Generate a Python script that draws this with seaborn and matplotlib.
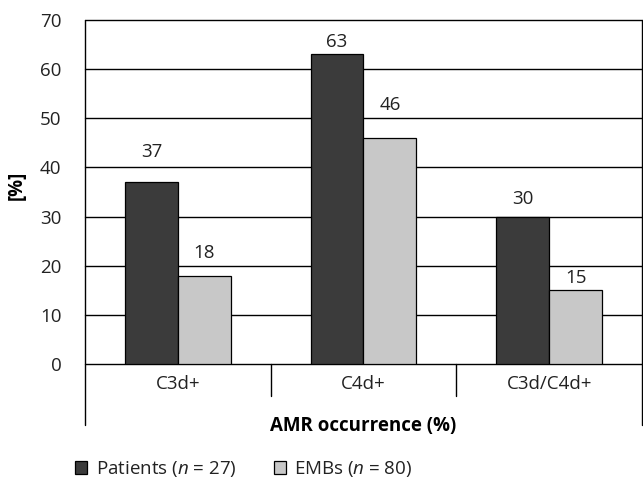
import matplotlib
matplotlib.use("Agg")
import matplotlib.pyplot as plt
from matplotlib.patches import Patch
import pandas as pd
import seaborn as sns

# Chart data
categories = ["C3d+", "C4d+", "C3d/C4d+"]
series_names = ["Patients ($n$ = 27)", "EMBs ($n$ = 80)"]
patients = [37, 63, 30]
embs = [18, 46, 15]
y_ticks = [0, 10, 20, 30, 40, 50, 60, 70]

# Styling
colors = ["#3b3b3b", "#c8c8c8"]
label_gap_px = [[30, 12, 18], [23, 33, 12]]  # vertical gap between bar top and value label

sns.set_style("white")
plt.rcParams["font.family"] = ["Open Sans", "DejaVu Sans"]
plt.rcParams["mathtext.fontset"] = "custom"
plt.rcParams["mathtext.it"] = "Open Sans:italic"
plt.rcParams["mathtext.rm"] = "Open Sans"
FS = 13.5

df = pd.DataFrame({
    "category": categories * 2,
    "series": [series_names[0]] * 3 + [series_names[1]] * 3,
    "value": patients + embs,
})

W, H = 643, 479
fig = plt.figure(figsize=(W / 100, H / 100), dpi=100)
left, right, top, bottom = 85, 642, 20, 364
ax = fig.add_axes([left / W, (H - bottom) / H, (right - left) / W, (bottom - top) / H])

sns.barplot(data=df, x="category", y="value", hue="series", palette=colors,
            width=0.57, edgecolor="black", linewidth=0.9, saturation=1,
            legend=False, ax=ax, zorder=3)

ax.set_xlim(-0.5, 2.5)
ax.set_ylim(0, 70)
ax.set_yticks(y_ticks)
ax.set_yticklabels([str(t) for t in y_ticks])
ax.tick_params(axis="y", length=6, width=1.0, direction="out", pad=11, colors="black",
               labelcolor="#222222", labelsize=FS)
ax.tick_params(axis="x", length=0, pad=8, labelsize=FS, labelcolor="#222222")
for s in ax.spines.values():
    s.set_visible(False)

# Horizontal gridlines, drawn unclipped so the 0 and 70 lines are full width
for t in y_ticks:
    ax.axhline(t, color="black", linewidth=1.0, zorder=1, clip_on=False)

# Extended axis frame and category separators
ext = (425 - bottom) / (bottom - top)
sep = (396 - bottom) / (bottom - top)
line_kw = dict(transform=ax.transAxes, color="black", linewidth=1.0, clip_on=False, zorder=4)
ax.plot([0, 0], [1, -ext], **line_kw)
ax.plot([1, 1], [1, -ext], **line_kw)
for xf in (1 / 3, 2 / 3):
    ax.plot([xf, xf], [0, -sep], **line_kw)

# Value labels above bars
px_to_pt = 72 / 100
for cont, vals, gaps in zip(ax.containers, [patients, embs], label_gap_px):
    for bar, v, g in zip(cont, vals, gaps):
        ax.annotate(str(v), (bar.get_x() + bar.get_width() / 2, v),
                    xytext=(0, g * px_to_pt), textcoords="offset points",
                    ha="center", va="center", fontsize=FS, color="#222222", zorder=5)

ax.set_xlabel("AMR occurrence (%)", fontsize=FS, fontweight="bold", color="black")
ax.xaxis.set_label_coords(0.5, -(426 - bottom) / (bottom - top))
ax.xaxis.label.set_va("center")
ax.set_ylabel("[%]", fontsize=FS, fontweight="bold", color="black")
ax.yaxis.set_label_coords((17 - left) / (right - left), (bottom - 185) / (bottom - top))
ax.yaxis.label.set_va("center")

handles = [Patch(facecolor=c, edgecolor="black", linewidth=0.9) for c in colors]
fig.legend(handles, series_names, loc="center left",
           bbox_to_anchor=(75 / W, 1 - 469 / H), ncol=2, frameon=False,
           fontsize=FS, handlelength=0.65, handleheight=0.65, handletextpad=0.45,
           columnspacing=2.0, borderpad=0, borderaxespad=0, labelcolor="#222222")

fig.savefig("out.png", dpi=100)
